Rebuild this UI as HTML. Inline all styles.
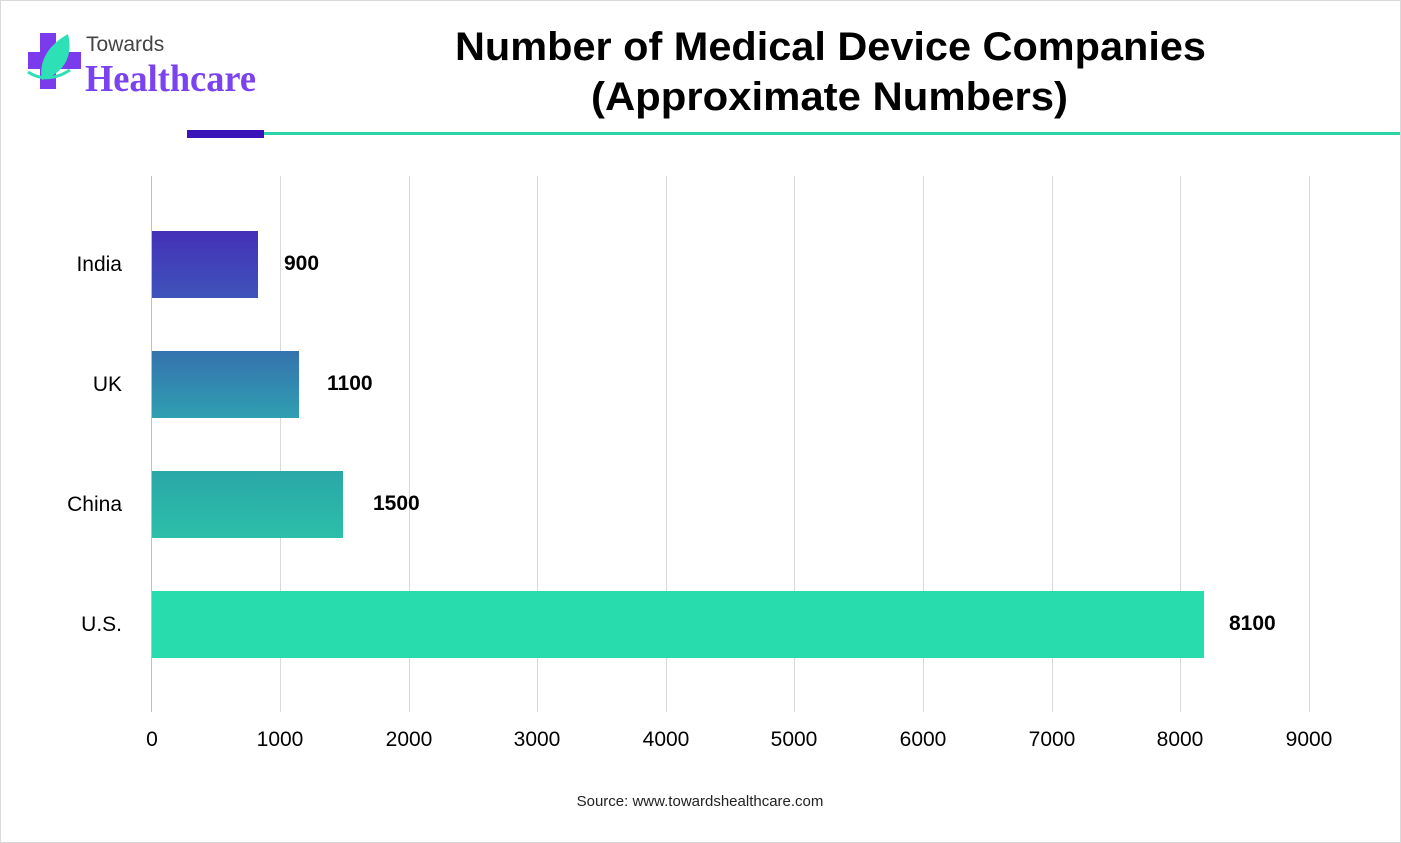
<!DOCTYPE html>
<html><head><style>
body{margin:0;background:#fff;}
.wrap{position:relative;width:1399px;height:841px;border:1px solid #d9d9d9;overflow:hidden;font-family:"Liberation Sans",sans-serif;}
</style></head><body><div class="wrap">
<svg width="1401" height="843" style="position:absolute;left:-1px;top:-1px">
<defs>
<linearGradient id="g1" x1="0" y1="0" x2="0" y2="1"><stop offset="0" stop-color="#4530b8"/><stop offset="1" stop-color="#3e54b9"/></linearGradient>
<linearGradient id="g2" x1="0" y1="0" x2="0" y2="1"><stop offset="0" stop-color="#3572ae"/><stop offset="1" stop-color="#2f9fb1"/></linearGradient>
<linearGradient id="g3" x1="0" y1="0" x2="0" y2="1"><stop offset="0" stop-color="#2aa7a8"/><stop offset="1" stop-color="#2cbfa9"/></linearGradient>
</defs>
<!-- logo -->
<rect x="40" y="33" width="16" height="56" fill="#7c3aed"/>
<rect x="28" y="52" width="53" height="17" fill="#7c3aed"/>
<path d="M68 34 C50 44 38 60 42 80 C62 74 74 58 68 34Z" fill="#2ee0b5"/>
<path d="M28 72 C40 80 55 80 70 70" stroke="#2ee0b5" stroke-width="3" fill="none"/>
<text x="86" y="51" font-size="21" fill="#444">Towards</text>
<text x="85" y="91" font-size="38" font-weight="bold" fill="#7b42f0" font-family="Liberation Serif,serif" textLength="171" lengthAdjust="spacingAndGlyphs">Healthcare</text>
<text x="455" y="60" font-size="40" font-weight="bold" fill="#000" textLength="751" lengthAdjust="spacingAndGlyphs">Number of Medical Device Companies</text>
<text x="591" y="110" font-size="40" font-weight="bold" fill="#000" textLength="477" lengthAdjust="spacingAndGlyphs">(Approximate Numbers)</text>
<rect x="187" y="130" width="77" height="8" fill="#3a14b8"/>
<rect x="264" y="132" width="1137" height="3" fill="#2dd4a8"/>
<g stroke="#d9d9d9" stroke-width="1">
<line x1="280.5" y1="176" x2="280.5" y2="712"/><line x1="409.5" y1="176" x2="409.5" y2="712"/>
<line x1="537.5" y1="176" x2="537.5" y2="712"/><line x1="666.5" y1="176" x2="666.5" y2="712"/>
<line x1="794.5" y1="176" x2="794.5" y2="712"/><line x1="923.5" y1="176" x2="923.5" y2="712"/>
<line x1="1052.5" y1="176" x2="1052.5" y2="712"/><line x1="1180.5" y1="176" x2="1180.5" y2="712"/>
<line x1="1309.5" y1="176" x2="1309.5" y2="712"/>
</g>
<line x1="151.5" y1="176" x2="151.5" y2="712" stroke="#bfbfbf"/>
<rect x="152" y="231" width="106" height="67" fill="url(#g1)"/>
<rect x="152" y="351" width="147" height="67" fill="url(#g2)"/>
<rect x="152" y="471" width="191" height="67" fill="url(#g3)"/>
<rect x="152" y="591" width="1052" height="67" fill="#28dcad"/>
<g font-size="21" fill="#000" text-anchor="end">
<text x="122" y="271">India</text><text x="122" y="391">UK</text>
<text x="122" y="511">China</text><text x="122" y="631">U.S.</text>
</g>
<g font-size="21" font-weight="bold" fill="#000">
<text x="284" y="270">900</text><text x="327" y="390">1100</text>
<text x="373" y="510">1500</text><text x="1229" y="630">8100</text>
</g>
<g font-size="21" fill="#000" text-anchor="middle">
<text x="152" y="746">0</text><text x="280" y="746">1000</text><text x="409" y="746">2000</text>
<text x="537" y="746">3000</text><text x="666" y="746">4000</text><text x="794" y="746">5000</text>
<text x="923" y="746">6000</text><text x="1052" y="746">7000</text><text x="1180" y="746">8000</text>
<text x="1309" y="746">9000</text>
</g>
<text x="700" y="806" font-size="15" text-anchor="middle" fill="#222">Source: www.towardshealthcare.com</text>
</svg>
</div></body></html>
